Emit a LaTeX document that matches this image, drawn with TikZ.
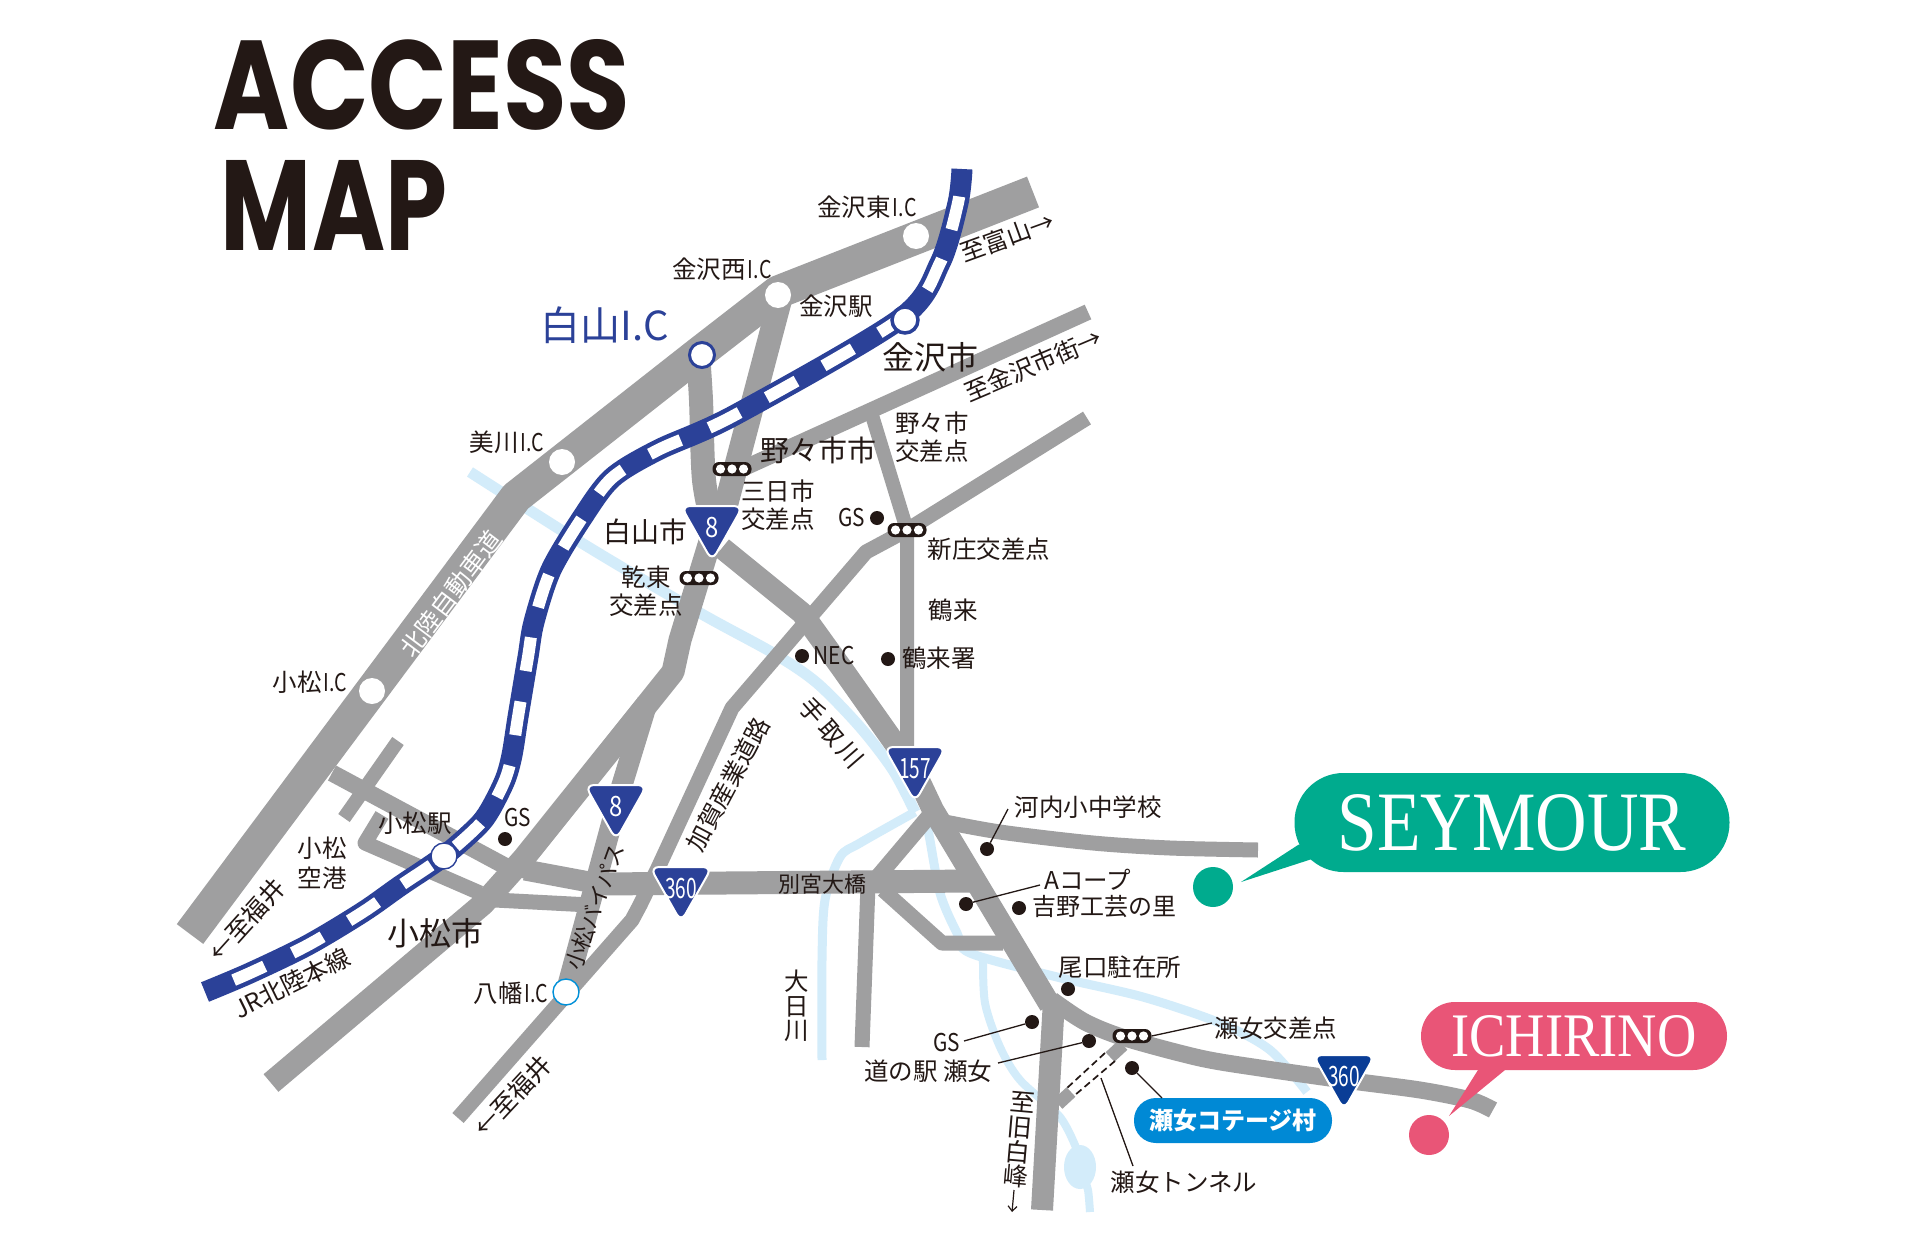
\documentclass[tikz,border=0pt]{standalone}
\usepackage{fontspec}
\usetikzlibrary{arrows.meta}
\setmainfont{Noto Sans CJK JP}
\newfontfamily\titlefont{Poppins}
\newfontfamily\logofont{Liberation Serif}
\definecolor{road}{HTML}{9F9FA0}
\definecolor{river}{HTML}{D3ECFA}
\definecolor{railblue}{HTML}{2B4198}
\definecolor{deepblue}{HTML}{0A3D96}
\definecolor{ink}{HTML}{231815}
\definecolor{seygreen}{HTML}{00AB8E}
\definecolor{ichipink}{HTML}{E95577}
\definecolor{cottage}{HTML}{0089D5}
\definecolor{icring}{HTML}{0090D8}
\newcommand{\ic}{\hspace{2pt}\scalebox{.8}[1]{I.C}}
\newcommand{\nar}[1]{\scalebox{.85}[1]{#1}}
\tikzset{
  roadline/.style={draw=road,line width=#1,line join=round},
  riverline/.style={draw=river,line width=#1,line join=round},
  lab/.style={font=\fontsize{#1}{#1}\selectfont,text=ink,inner sep=0pt},
  wlab/.style={font=\fontsize{#1}{#1}\selectfont,text=white,inner sep=0pt},
  stack/.style={font=\fontsize{#1}{#1}\selectfont,text=ink,inner sep=0pt,align=center},
  dot/.style={circle,fill=ink,minimum size=14pt,inner sep=0pt},
  icmark/.style={circle,fill=white,minimum size=26pt,inner sep=0pt},
  sig/.style={rectangle,rounded corners=6.5pt,fill=ink,minimum width=39pt,minimum height=14pt,inner sep=0pt},
  leader/.style={draw=ink,line width=1.3pt},
  shieldnum/.style={font=\fontsize{28}{28}\selectfont,text=white,inner sep=0pt},
}
\newcommand{\signal}[3]{%
  \node[sig] (#1) at (#2,#3) {};
  \fill[white] ([xshift=-11.5pt]#1.center) circle (4.6pt) (#1.center) circle (4.6pt) ([xshift=11.5pt]#1.center) circle (4.6pt);
}
\newcommand{\shield}[5]{%
  \begin{scope}[shift={(#2,#3)}]
    \path[fill=#5,draw=white,line width=2pt,rounded corners=9pt] (0,-25)--(31,-25)--(0,30)--(-31,-25)--cycle;
  \end{scope}
  \node[shieldnum] (#1) at (#2,#3-3) {#4};
}
\begin{document}
\begin{tikzpicture}[x=1pt,y=-1pt]
\useasboundingbox (0,0) rectangle (1920,1250);
\fill[white] (0,0) rectangle (1920,1250);

% rivers
\draw[riverline=11pt] plot[smooth] coordinates {(470,472) (585,545) (700,613) (773,653) (817,683) (860,727) (893,770) (915,812)};
\draw[riverline=9pt] plot[smooth] coordinates {(915,812) (860,843) (840,857) (825,900) (822,960) (822,1060)};
\draw[riverline=9pt] plot[smooth] coordinates {(922,815) (928,830) (940,893) (957,933) (970,953) (1057,977) (1143,997) (1220,1023) (1270,1050) (1307,1092)};
\draw[riverline=8pt] plot[smooth] coordinates {(983,955) (985,1003) (1000,1047) (1020,1080) (1060,1117) (1077,1150)};
\fill[river] (1080,1167) ellipse (16pt and 22pt);
\draw[riverline=8pt] plot[smooth] coordinates {(1084,1180) (1088,1190) (1090,1212)};

% expressway
\draw[roadline=33pt] (190,934) -- (516,497) -- (698,354) -- (778,292) -- (1033,192);
% links to route 8
\draw[roadline=24pt] plot[smooth] coordinates {(698,354) (701,400) (704,480) (714,530)};
\draw[roadline=24pt] (780,300) -- (722,520);
% nonoichi road
\draw[roadline=16pt] (722,478) -- (1088,312);
\draw[roadline=14pt] (871,412) -- (907,530) -- (907,770);
\draw[roadline=15pt] (1087,418) -- (907,530) -- (866,552) -- (732,708) -- (658,868) -- (640,905) -- (632,920) -- (458,1118);
% route 8
\draw[roadline=23pt] (712,535) -- (680,640) -- (673,672) -- (524,858) -- (483,904) -- (271,1083);
\draw[roadline=21pt] (648,700) -- (622,785) -- (566,992);
% 157
\draw[roadline=22pt] (722,548) -- (802,613) -- (843,670) -- (915,772) -- (933,810) -- (1050,1005);
\draw[roadline=22pt] (1054,1000) -- (1042,1210);
% 360 east
\draw[roadline=17pt] plot[smooth] coordinates {(1052,1000) (1085,1022) (1125,1038) (1200,1058) (1260,1068) (1344,1080) (1420,1090) (1470,1100) (1493,1110)};
% kawachi
\draw[roadline=15pt] plot[smooth] coordinates {(935,820) (1000,832) (1093,843) (1170,848) (1258,850)};
% 360 horizontal and loops
\draw[roadline=23pt] (600,884) -- (975,881);
\draw[roadline=16pt] (930,815) -- (875,880);
\draw[roadline=15pt] (883,890) -- (942,943) -- (1003,943);
\draw[roadline=15pt] (868,885) -- (862,1047);
% komatsu west
\draw[roadline=17pt] (332,773) -- (505,866) -- (530,871);
\draw[roadline=21pt] (525,870) -- (600,884);
\draw[roadline=14pt] (398,741) -- (344,818);
\draw[roadline=15pt] (382,815) -- (365,843) -- (480,893);
\draw[roadline=15pt] (495,900) -- (590,905);
% tunnel
\draw[roadline=13pt] (1123,1045) -- (1110,1057);
\draw[roadline=13pt] (1071,1092) -- (1058,1104);
\draw[draw=ink,line width=1.7pt,dash pattern=on 7pt off 4pt] (1105,1053) -- (1067,1088);
\draw[draw=ink,line width=1.7pt,dash pattern=on 7pt off 4pt] (1115,1061) -- (1075,1095);

% rail
\draw[draw=railblue,line width=21pt,postaction={draw=white,line width=12pt,dash pattern=on 34pt off 31pt,dash phase=34pt}]
  plot[smooth] coordinates {(205,992) (250,973) (308,945) (363,912) (400,886) (444,856) (477,827) (490,810) (505,780) (512,755) (518,717) (528,657) (534,622) (551,570) (582,518) (612,478) (658,450) (735,415) (900,319) (940,263) (958,203) (962,169)};

% interchange marks
\node[icmark] (ic-kanazawahigashi) at (916,236) {};
\node[icmark] (ic-kanazawanishi) at (778,295) {};
\node[icmark] (ic-mikawa) at (562,462) {};
\node[icmark] (ic-komatsu) at (372,691) {};
\node[icmark,draw=railblue,line width=3pt,minimum size=25pt] (ic-hakusan) at (702,355) {};
\node[icmark,draw=icring,line width=1.4pt] (ic-yawata) at (566,992) {};
\node[icmark,draw=railblue,line width=3.5pt,minimum size=26pt] (st-kanazawa) at (905,320) {};
\node[icmark,draw=railblue,line width=1.4pt] (st-komatsu) at (444,856) {};

% signals
\signal{sig-mikka}{732}{469}
\signal{sig-shinjo}{907}{530}
\signal{sig-inui}{699}{578}
\signal{sig-senami}{1132}{1036}

% route shields
\shield{sh-8a}{712}{531}{\scalebox{.85}[1]{8}}{railblue}
\shield{sh-8b}{616}{810}{\scalebox{.85}[1]{8}}{railblue}
\shield{sh-157}{915}{772}{\scalebox{.68}[1]{157}}{railblue}
\shield{sh-360a}{681}{892}{\scalebox{.68}[1]{360}}{railblue}
\shield{sh-360b}{1344}{1080}{\scalebox{.68}[1]{360}}{deepblue}

% title
\node[inner sep=0pt,text=ink] (title1) at (422,85) {\resizebox{416pt}{90pt}{\titlefont\bfseries ACCESS}};
\node[inner sep=0pt,text=ink] (title2) at (334,205) {\resizebox{226pt}{90pt}{\titlefont\bfseries MAP}};

% labels, north
\node[lab=24.5] (l-higashi) at (867,207) {金沢東\ic};
\node[lab=24.5] (l-nishi) at (722,269) {金沢西\ic};
\node[lab=24.5] (l-mikawa) at (507,442) {美川\ic};
\node[lab=24.5] (l-komatsuic) at (310,682) {小松\ic};
\node[lab=24.5] (l-yawata) at (511,993) {八幡\ic};
\node[font=\fontsize{40}{40}\selectfont,text=railblue,inner sep=0pt] (l-hakusanic) at (605,325) {白山I.C};
\node[lab=24.5] (l-kanazawaeki) at (836,306) {金沢駅};
\node[lab=32] (l-kanazawashi) at (930,357) {金沢市};
\node[lab=24.5,rotate=20] (l-toyama) at (1007,237) {至富山→};
\node[lab=24.5,rotate=23] (l-kanazawagai) at (1033,365) {至金沢市街→};
\node[lab=29] (l-nonoichi) at (818,450) {野々市市};
\node[stack=24.5] (l-nonocross) at (932,437) {野々市\\[4pt]交差点};
\node[stack=24.5] (l-mikka) at (778,505) {三日市\\[4pt]交差点};
\node[lab=28] (l-hakusanshi) at (645,532) {白山市};
\node[stack=24.5] (l-inui) at (646,591) {乾東\\[4pt]交差点};
\node[lab=24.5] (l-gs1) at (852,518) {\nar{GS}};
\node[dot] (d-gs1) at (877,518) {};
\node[lab=24.5] (l-shinjo) at (989,549) {新庄交差点};
\node[lab=24.5] (l-tsurugi) at (953,610) {鶴来};
\node[dot] (d-tsurugi) at (888,659) {};
\node[lab=24.5] (l-tsurugisho) at (939,658) {鶴来署};
\node[dot] (d-nec) at (802,656) {};
\node[lab=24.5] (l-nec) at (834,656) {\nar{NEC}};
\node[wlab=25,rotate=53] (l-hokuriku) at (451,594) {北陸自動車道};
\node[lab=24.5,rotate=62] (l-kaga) at (728,784) {加賀産業道路};
\node[lab=25,rotate=-49] (l-tedori) at (832,733) {手\hspace{4pt}取\hspace{4pt}川};
\node[stack=24.5] (l-ohi) at (797,1006) {大\\日\\川};
\node[lab=22] (l-betsumiya) at (822,884) {別宮大橋};
\node[lab=22,rotate=70] (l-bypass) at (595,907) {小松バイパス};

% labels, komatsu
\node[stack=24.5] (l-airport) at (322,863) {小松\\[5pt]空港};
\node[lab=24.5] (l-komatsueki) at (415,823) {小松駅};
\node[lab=24.5] (l-gs2) at (518,818) {\nar{GS}};
\node[dot] (d-gs2) at (505,839) {};
\node[lab=32] (l-komatsushi) at (435,933) {小松市};
\node[lab=25,rotate=48] (l-fukui1) at (247,920) {←至福井};
\node[lab=25,rotate=47] (l-fukui2) at (513,1096) {←至福井};
\node[lab=24.5,rotate=26] (l-jr) at (292,983) {JR北陸本線};

% labels with leaders, south-east
\node[dot] (d-kawachi) at (987,849) {};
\coordinate (e-kawachi) at (1008,809);
\node[lab=24.5] (l-kawachi) at (1088,807) {河内小中学校};
\draw[leader] (d-kawachi) -- (e-kawachi);
\node[dot] (d-acoop) at (966,904) {};
\coordinate (e-acoop) at (1040,885);
\node[lab=24.5] (l-acoop) at (1088,880) {Aコープ};
\draw[leader] (d-acoop) -- (e-acoop);
\node[dot] (d-yoshino) at (1019,908) {};
\node[lab=24] (l-yoshino) at (1104,907) {吉野工芸の里};
\node[dot] (d-oguchi) at (1068,989) {};
\node[lab=24.5] (l-oguchi) at (1120,967) {尾口駐在所};
\node[dot] (d-gs3) at (1032,1022) {};
\coordinate (e-gs3) at (964,1041);
\node[lab=24.5] (l-gs3) at (947,1043) {\nar{GS}};
\draw[leader] (d-gs3) -- (e-gs3);
\node[dot] (d-michi) at (1089,1041) {};
\coordinate (e-michi) at (998,1063);
\node[lab=24.5] (l-michi) at (928,1071) {道の駅 瀬女};
\draw[leader] (d-michi) -- (e-michi);
\coordinate (e-senami) at (1212,1023);
\node[lab=24.5] (l-senami) at (1276,1028) {瀬女交差点};
\draw[leader] (sig-senami.east) -- (e-senami);
\node[dot] (d-cottage) at (1132,1068) {};
\node[rectangle,rounded corners=22pt,fill=cottage,minimum width=198pt,minimum height=45pt,inner sep=0pt,text=white,font=\fontsize{24}{24}\selectfont\bfseries] (cottage) at (1233,1120.5) {瀬女コテージ村};
\coordinate (e-cottage) at (1162,1098);
\draw[leader] (d-cottage) -- (e-cottage);
\coordinate (e-tunnel1) at (1101,1078);
\coordinate (e-tunnel2) at (1133,1166);
\node[lab=24.5] (l-tunnel) at (1184,1182) {瀬女トンネル};
\draw[leader] (e-tunnel1) -- (e-tunnel2);
\node[stack=25,rotate=-5] (l-hakumine) at (1019,1140) {至\\旧\\白\\峰};
\coordinate (a-hakumine1) at (1014,1190);
\coordinate (a-hakumine2) at (1012,1212);
\draw[draw=ink,line width=1.2pt,-{Straight Barb[length=5pt,width=9pt]}] (a-hakumine1) -- (a-hakumine2);

% callouts
\fill[seygreen] (1298,845) -- (1241,882) -- (1312,859) -- (1340,860) -- (1340,830) -- cycle;
\node[rectangle,rounded corners=49pt,fill=seygreen,minimum width=435pt,minimum height=99pt,inner sep=0pt,text=white] (seymour) at (1512,822.5) {\resizebox{349pt}{56pt}{\logofont SEYMOUR}};
\node[circle,fill=seygreen,minimum size=40pt,inner sep=0pt] (d-seymour) at (1213,887) {};
\fill[ichipink] (1478,1060) -- (1478,1070) -- (1449,1116) -- (1505,1070) -- (1505,1060) -- cycle;
\node[rectangle,rounded corners=34pt,fill=ichipink,minimum width=306pt,minimum height=68pt,inner sep=0pt,text=white] (ichirino) at (1574,1036) {\resizebox{245pt}{41pt}{\logofont ICHIRINO}};
\node[circle,fill=ichipink,minimum size=40pt,inner sep=0pt] (d-ichirino) at (1429,1135) {};
\end{tikzpicture}
\end{document}
